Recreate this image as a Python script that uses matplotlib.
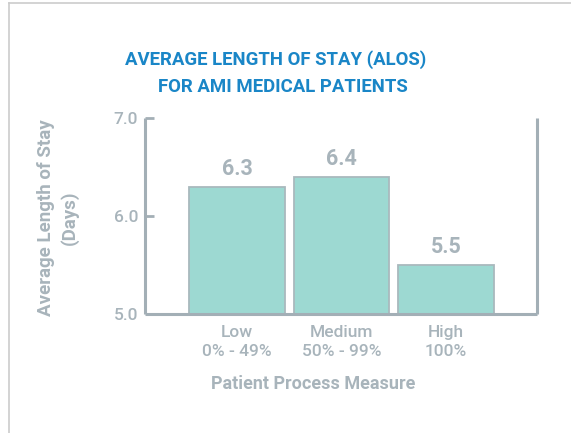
import matplotlib
matplotlib.use('Agg')
import matplotlib.pyplot as plt
from matplotlib.lines import Line2D

# data
categories = ['Low\n0% - 49%', 'Medium\n50% - 99%', 'High\n100%']
alos = [6.3, 6.4, 5.5]
y_ticks = [5.0, 6.0, 7.0]

grey = '#a8b4bb'
spine_grey = '#a3afb6'
teal = '#9dd9d2'
blue = '#1a86c7'

plt.rcParams['font.family'] = ['Roboto', 'DejaVu Sans']

fig = plt.figure(figsize=(5.71, 4.33), dpi=100)
ax = fig.add_axes([145 / 571, 1 - 314 / 433, (537 - 145) / 571, (314 - 118) / 433])

x = list(range(len(categories)))
bars = ax.bar(x, [v - 5.0 for v in alos], bottom=5.0, width=0.91,
              color=teal, edgecolor='#a9b9bd', linewidth=1.3, zorder=2)
for b, v in zip(bars, alos):
    ax.text(b.get_x() + b.get_width() / 2, v + 0.07, '%.1f' % v,
            ha='center', va='bottom', fontsize=15.5, fontweight='bold', color=grey)

ax.set_xlim(-0.88, 2.87)
ax.set_ylim(5.0, 7.0)
ax.set_yticks(y_ticks)
ax.set_yticklabels(['%.1f' % t for t in y_ticks])
ax.set_xticks(x)
ax.set_xticklabels(categories, linespacing=1.3)
ax.tick_params(axis='y', direction='in', length=6.5, width=2, color=spine_grey,
               labelsize=12.5, labelcolor=grey, pad=5)
ax.tick_params(axis='x', length=0, labelsize=12.5, labelcolor=grey, pad=8)
ax.yaxis.get_major_ticks()[0].tick1line.set_visible(False)
for lab in ax.get_xticklabels() + ax.get_yticklabels():
    lab.set_fontweight('medium')

ax.spines['top'].set_visible(False)
for s in ['left', 'right', 'bottom']:
    ax.spines[s].set_color(spine_grey)
    ax.spines[s].set_linewidth(2.2)
    ax.spines[s].set_capstyle('butt')

fig.text(313 / 571, 1 - 384 / 433, 'Patient Process Measure', ha='center', va='center',
         fontsize=13, fontweight='bold', color=grey)
fig.text(58 / 571, 1 - 218 / 433, 'Average Length of Stay\n(Days)', ha='center', va='center',
         rotation=90, fontsize=13.5, fontweight='bold', color=grey, linespacing=1.3)

fig.text(276 / 571, 1 - 60 / 433, 'AVERAGE LENGTH OF STAY (ALOS)', ha='center', va='center',
         fontsize=13.4, fontweight='bold', color=blue)
fig.text(283 / 571, 1 - 87 / 433, 'FOR AMI MEDICAL PATIENTS', ha='center', va='center',
         fontsize=13.4, fontweight='bold', color=blue)

# frame of the original card
fig.add_artist(Line2D([9 / 571, 9 / 571], [0, 1 - 3 / 433], transform=fig.transFigure,
                      color='#cccccc', linewidth=1.2))
fig.add_artist(Line2D([9 / 571, 1], [1 - 3 / 433, 1 - 3 / 433], transform=fig.transFigure,
                      color='#cccccc', linewidth=1.2))

fig.savefig('out.png', dpi=100)
